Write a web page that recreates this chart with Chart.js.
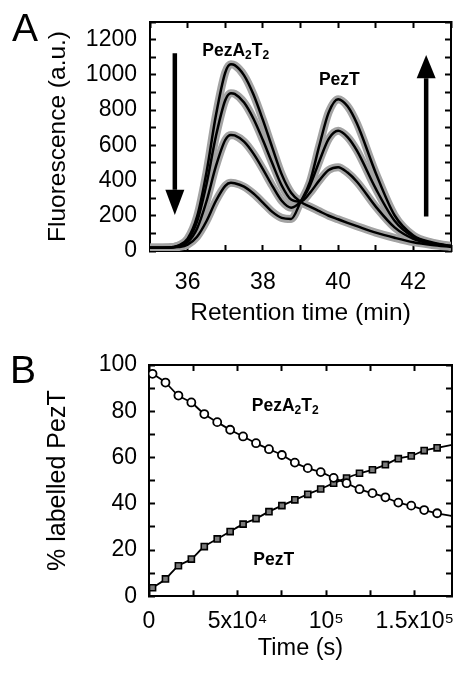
<!DOCTYPE html>
<html>
<head>
<meta charset="utf-8">
<script src="https://cdn.jsdelivr.net/npm/chart.js@4.4.1/dist/chart.umd.min.js"></script>
<style>
  html, body { margin: 0; padding: 0; overflow: hidden; background: #fff; width: 461px; height: 674px; }
  canvas { position: absolute; left: 0; }
  #chartA { top: 0; }
  #chartB { top: 337px; }
</style>
</head>
<body>
<canvas id="chartA" width="470" height="337"></canvas>
<canvas id="chartB" width="470" height="337"></canvas>
<script>
"use strict";

// ---- panel A: chromatograms (retention time in min, fluorescence in a.u.)
const retention = [35, 35.5, 35.75, 36, 36.25, 36.5, 36.75, 37, 37.15, 37.25, 37.5, 37.75, 38, 38.25,
  38.5, 38.75, 39, 39.25, 39.5, 39.75, 40, 40.25, 40.5, 41, 41.5, 42, 42.5, 43];
const trace1 = [18, 20, 31, 70, 195, 445, 768, 1013, 1060, 1055, 997, 888, 744, 587,
  435, 331, 280, 252, 226, 200, 180, 160, 141, 104, 75, 50, 34, 23];
const trace2 = [18, 20, 29, 62, 167, 378, 650, 856, 896, 892, 843, 751, 630, 498,
  372, 292, 280, 330, 401, 460, 476, 445, 393, 252, 134, 69, 41, 26];
const trace3 = [18, 19, 26, 50, 127, 281, 480, 630, 659, 656, 621, 553, 465, 370,
  285, 246, 281, 371, 510, 637, 683, 647, 570, 354, 172, 80, 45, 28];
const trace4 = [18, 19, 22, 36, 81, 169, 284, 370, 387, 385, 365, 326, 275, 222,
  188, 182, 278, 392, 598, 787, 862, 822, 724, 443, 203, 88, 48, 29];
const retentionTicks = [36, 38, 40, 42];
const fluorTicks = [0, 200, 400, 600, 800, 1000, 1200];

// ---- panel B: % labelled PezT over time (s)
const timePoints = [2000, 9300, 16600, 23900, 31200, 38500, 45800, 53100, 60400, 67700, 75000, 82300,
  89600, 96900, 104200, 111500, 118800, 126100, 133400, 140700, 148000, 155300, 162600];
const pezA2T2 = [96.2, 92.4, 86.8, 83.8, 78.8, 75.3, 72.0, 69.1, 66.2, 63.6, 61.1, 57.8,
  55.4, 53.7, 51.2, 48.9, 46.3, 44.6, 42.8, 40.5, 39.2, 37.3, 35.9];
const pezT = [3.7, 7.5, 13.2, 16.1, 21.5, 24.8, 28.0, 31.2, 33.6, 36.6, 39.2, 41.7,
  44.1, 46.4, 48.9, 51.1, 53.2, 54.7, 56.9, 59.5, 60.7, 63.0, 64.2];
const fitEndTime = 171000;
const fitEndA2T2 = 34.7;
const fitEndT = 65.5;
const timeMinorTicks = [0, 25000, 50000, 75000, 100000, 125000, 150000];
const timeTickValues = [0, 50000, 100000, 150000];
const timeTickLabels = ["0", "5x10\u2074", "10\u2075", "1.5x10\u2075"];
const percentTicks = [0, 20, 40, 60, 80, 100];

Chart.defaults.font.family = "'Liberation Sans', Arial, sans-serif";
Chart.defaults.color = "#000";

const FONT = "'Liberation Sans', Arial, sans-serif";

function toPoints(xs, ys) {
  return xs.map(function (x, i) { return { x: x, y: ys[i] }; });
}

// inward tick marks and a black frame line on every side
const innerGrid = {
  display: true,
  drawOnChartArea: false,
  drawTicks: true,
  tickLength: -6,
  tickWidth: 2,
  tickColor: "#000",
  color: "#000"
};
const frameBorder = { display: true, color: "#000", width: 2 };

function fixY(width) {
  return function (s) {
    s.width = width;
    s.paddingTop = 0;
    s.paddingBottom = 0;
  };
}
function fixX(height) {
  return function (s) {
    s.height = height;
    s.paddingLeft = 0;
    s.paddingRight = 0;
  };
}
function blank() { return ""; }
function timeTicks(s) {
  s.ticks = timeMinorTicks.map(function (v) { return { value: v }; });
}

// bold label with subscript parts, e.g. PezA2T2
function drawNote(ctx, parts, x, y) {
  let cx = x;
  ctx.textAlign = "left";
  ctx.textBaseline = "alphabetic";
  parts.forEach(function (p) {
    ctx.font = p[1] ? "bold 12px " + FONT : "bold 17.5px " + FONT;
    ctx.fillText(p[0], cx, p[1] ? y + 3 : y);
    cx += ctx.measureText(p[0]).width;
  });
}

const complexParts = [["PezA", false], ["2", true], ["T", false], ["2", true]];
const toxinParts = [["PezT", false]];

function drawArrow(ctx, x, yTail, yBase, yTip, half, shaft) {
  ctx.beginPath();
  ctx.rect(x - shaft / 2, Math.min(yTail, yBase), shaft, Math.abs(yBase - yTail));
  ctx.fill();
  ctx.beginPath();
  ctx.moveTo(x - half, yBase);
  ctx.lineTo(x + half, yBase);
  ctx.lineTo(x, yTip);
  ctx.closePath();
  ctx.fill();
}

const notesA = {
  id: "notesA",
  afterDraw(chart) {
    const ctx = chart.ctx;
    const xs = chart.scales.x;
    const ys = chart.scales.y;
    ctx.save();
    ctx.fillStyle = "#000";
    ctx.font = "39px " + FONT;
    ctx.textAlign = "left";
    ctx.textBaseline = "alphabetic";
    ctx.fillText("A", 12, 41);
    drawNote(ctx, complexParts, xs.getPixelForValue(36.39), ys.getPixelForValue(1108));
    drawNote(ctx, toxinParts, xs.getPixelForValue(39.49), ys.getPixelForValue(945));
    // decreasing complex, increasing free toxin
    drawArrow(ctx, xs.getPixelForValue(35.66), ys.getPixelForValue(1123),
      ys.getPixelForValue(347), ys.getPixelForValue(205), 9.5, 4.5);
    drawArrow(ctx, xs.getPixelForValue(42.34), ys.getPixelForValue(196),
      ys.getPixelForValue(981), ys.getPixelForValue(1113), 9.5, 4.5);
    ctx.restore();
  }
};

const notesB = {
  id: "notesB",
  afterDraw(chart) {
    const ctx = chart.ctx;
    const xs = chart.scales.x;
    const ys = chart.scales.y;
    ctx.save();
    ctx.fillStyle = "#000";
    ctx.font = "39px " + FONT;
    ctx.textAlign = "left";
    ctx.textBaseline = "alphabetic";
    ctx.fillText("B", 10, 46);
    drawNote(ctx, complexParts, xs.getPixelForValue(58000), ys.getPixelForValue(80.2));
    drawNote(ctx, toxinParts, xs.getPixelForValue(58900), ys.getPixelForValue(13.5));
    ctx.restore();
  }
};

const traces = [trace1, trace2, trace3, trace4];
const datasetsA = [];
traces.forEach(function (tr, i) {
  datasetsA.push({
    label: "fit " + (i + 1),
    data: toPoints(retention, tr),
    showLine: true,
    borderColor: "#000",
    borderWidth: 2.5,
    pointRadius: 0,
    cubicInterpolationMode: "monotone",
    order: 0
  });
});
traces.forEach(function (tr, i) {
  datasetsA.push({
    label: "data " + (i + 1),
    data: toPoints(retention, tr),
    showLine: true,
    borderColor: "#a3a3a3",
    borderWidth: 8,
    pointRadius: 0,
    cubicInterpolationMode: "monotone",
    order: 1
  });
});

const chartA = new Chart(document.getElementById("chartA"), {
  type: "scatter",
  data: { datasets: datasetsA },
  options: {
    responsive: false,
    animation: false,
    devicePixelRatio: 1,
    layout: { padding: { left: 0, top: 22, right: 19, bottom: 0 } },
    plugins: { legend: { display: false }, tooltip: { enabled: false } },
    scales: {
      x: {
        type: "linear",
        position: "bottom",
        min: 35,
        max: 43,
        grid: innerGrid,
        border: frameBorder,
        ticks: {
          stepSize: 1,
          autoSkip: false,
          maxRotation: 0,
          padding: 24,
          font: { size: 23 },
          callback: function (v) { return retentionTicks.includes(v) ? String(v) : ""; }
        },
        title: { display: true, text: "Retention time (min)", font: { size: 24.5 }, padding: { top: 0, bottom: 9 } },
        afterFit: fixX(86)
      },
      xTop: {
        type: "linear",
        position: "top",
        min: 35,
        max: 43,
        grid: innerGrid,
        border: frameBorder,
        ticks: { stepSize: 1, autoSkip: false, maxRotation: 0, callback: blank },
        afterFit: fixX(0)
      },
      y: {
        position: "left",
        min: 0,
        max: 1300,
        grid: innerGrid,
        border: frameBorder,
        ticks: {
          stepSize: 100,
          autoSkip: false,
          padding: 19,
          font: { size: 23 },
          callback: function (v) { return fluorTicks.includes(v) ? String(v) : ""; }
        },
        title: { display: true, text: "Fluorescence (a.u.)", font: { size: 24.5 }, padding: { top: 44, bottom: 0 } },
        afterFit: fixY(150)
      },
      yRight: {
        position: "right",
        min: 0,
        max: 1300,
        grid: innerGrid,
        border: frameBorder,
        ticks: { stepSize: 100, autoSkip: false, callback: blank },
        afterFit: fixY(0)
      }
    }
  },
  plugins: [notesA]
});

const chartB = new Chart(document.getElementById("chartB"), {
  type: "scatter",
  data: {
    datasets: [
      {
        label: "PezA2T2",
        data: toPoints(timePoints, pezA2T2),
        pointStyle: "circle",
        pointRadius: 4,
        pointBorderWidth: 1.8,
        pointBackgroundColor: "#fff",
        pointBorderColor: "#000",
        order: 0
      },
      {
        label: "PezT",
        data: toPoints(timePoints, pezT),
        pointStyle: "rect",
        pointRadius: 4.3,
        pointBorderWidth: 1.6,
        pointBackgroundColor: "#7a7a7a",
        pointBorderColor: "#000",
        order: 0
      },
      {
        label: "PezA2T2 fit",
        data: toPoints(timePoints.concat([fitEndTime]), pezA2T2.concat([fitEndA2T2])),
        showLine: true,
        borderColor: "#000",
        borderWidth: 1.8,
        pointRadius: 0,
        cubicInterpolationMode: "monotone",
        order: 1
      },
      {
        label: "PezT fit",
        data: toPoints(timePoints.concat([fitEndTime]), pezT.concat([fitEndT])),
        showLine: true,
        borderColor: "#000",
        borderWidth: 1.8,
        pointRadius: 0,
        cubicInterpolationMode: "monotone",
        order: 1
      }
    ]
  },
  options: {
    responsive: false,
    animation: false,
    devicePixelRatio: 1,
    layout: { padding: { left: 0, top: 28, right: 18, bottom: 0 } },
    plugins: { legend: { display: false }, tooltip: { enabled: false } },
    scales: {
      x: {
        type: "linear",
        position: "bottom",
        min: 0,
        max: 171000,
        grid: innerGrid,
        border: frameBorder,
        afterBuildTicks: timeTicks,
        ticks: {
          autoSkip: false,
          maxRotation: 0,
          padding: 18,
          font: { size: 23 },
          callback: function (v) {
            const i = timeTickValues.indexOf(v);
            return i >= 0 ? timeTickLabels[i] : "";
          }
        },
        title: { display: true, text: "Time (s)", font: { size: 23.5 }, padding: { top: 0, bottom: 11 } },
        afterFit: fixX(77.7)
      },
      xTop: {
        type: "linear",
        position: "top",
        min: 0,
        max: 171000,
        grid: innerGrid,
        border: frameBorder,
        afterBuildTicks: timeTicks,
        ticks: { autoSkip: false, maxRotation: 0, callback: blank },
        afterFit: fixX(0)
      },
      y: {
        position: "left",
        min: 0,
        max: 100,
        grid: innerGrid,
        border: frameBorder,
        ticks: {
          stepSize: 10,
          autoSkip: false,
          padding: 18,
          font: { size: 23 },
          callback: function (v) { return percentTicks.includes(v) ? String(v) : ""; }
        },
        title: { display: true, text: "% labelled PezT", font: { size: 25 }, padding: { top: 43, bottom: 0 } },
        afterFit: fixY(149)
      },
      yRight: {
        position: "right",
        min: 0,
        max: 100,
        grid: innerGrid,
        border: frameBorder,
        ticks: { stepSize: 10, autoSkip: false, callback: blank },
        afterFit: fixY(0)
      }
    }
  },
  plugins: [notesB]
});
</script>
</body>
</html>
